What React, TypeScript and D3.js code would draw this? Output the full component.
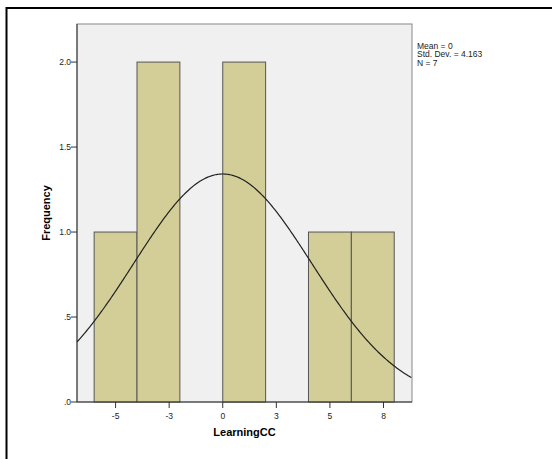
import React from 'react';
import * as d3 from 'd3';

// histogram bins (lower edges) and counts
const binStarts = [-6, -4, -2, 0, 2, 4, 6];
const frequencies = [1, 2, 0, 2, 0, 1, 1];
const binWidth = 2;

const mean = 0;
const stdDev = 4.163;
const n = 7;

const xTicks = [-5, -2.5, 0, 2.5, 5, 7.5];
const xTickLabels = ['-5', '-3', '0', '3', '5', '8'];
const yTicks = [0, 0.5, 1, 1.5, 2];
const yTickLabels = ['.0', '.5', '1.0', '1.5', '2.0'];
const statsLines = ['Mean = 0', 'Std. Dev. = 4.163', 'N = 7'];

const font = '"Liberation Sans", Arial, sans-serif';

export default function App() {
    const left = 77, right = 412, top = 24, bottom = 402;

    const x = d3.scaleLinear().domain([-6.8, 8.83]).range([left, right]);
    const y = d3.scaleLinear().domain([0, 2.224]).range([bottom, top]);

    // expected normal curve scaled to counts per bin
    const density = (v: number) =>
        n * binWidth / (stdDev * Math.sqrt(2 * Math.PI)) *
        Math.exp(-0.5 * Math.pow((v - mean) / stdDev, 2));
    const curvePts = d3.range(-6.8, 8.83 + 0.001, 0.05).map(v => [v, density(v)] as [number, number]);
    const line = d3.line<[number, number]>()
        .x(d => x(d[0]))
        .y(d => y(d[1]));

    return (
        <svg width={552} height={459} style={{ position: 'absolute', left: 0, top: 0, background: '#fff' }}>
            <rect x={6.5} y={8} width={700} height={700} fill="none" stroke="#000" strokeWidth={2} />
            <rect x={left} y={top} width={right - left} height={bottom - top} fill="#f0f0f0" stroke="#888" strokeWidth={1} />
            {binStarts.map((b, i) => frequencies[i] > 0 ? (
                <rect key={i}
                    x={x(b)} y={y(frequencies[i])}
                    width={x(b + binWidth) - x(b)}
                    height={y(0) - y(frequencies[i])}
                    fill="#d3ce97" stroke="#555" strokeWidth={1} />
            ) : null)}
            <path d={line(curvePts) || ''} fill="none" stroke="#222" strokeWidth={1.2} />
            <line x1={left} x2={left} y1={top} y2={bottom} stroke="#333" />
            <line x1={left} x2={right} y1={bottom} y2={bottom} stroke="#333" />
            {yTicks.map((t, i) => (
                <g key={i}>
                    <line x1={left - 6} x2={left} y1={y(t)} y2={y(t)} stroke="#333" />
                    <text x={left - 6} y={y(t) + 3} textAnchor="end" fontSize={8.5} fontFamily={font} fill="#222">{yTickLabels[i]}</text>
                </g>
            ))}
            {xTicks.map((t, i) => (
                <g key={i}>
                    <line x1={x(t)} x2={x(t)} y1={bottom} y2={bottom + 6} stroke="#333" />
                    <text x={x(t)} y={bottom + 17} textAnchor="middle" fontSize={8.5} fontFamily={font} fill="#222">{xTickLabels[i]}</text>
                </g>
            ))}
            <text x={(left + right) / 2} y={436} textAnchor="middle" fontSize={11} fontWeight="bold" fontFamily={font} fill="#000">LearningCC</text>
            <text transform={`translate(50,${(top + bottom) / 2}) rotate(-90)`} textAnchor="middle" fontSize={11} fontWeight="bold" fontFamily={font} fill="#000">Frequency</text>
            {statsLines.map((s, i) => (
                <text key={i} x={417} y={48.5 + i * 8.5} fontSize={8.5} fontFamily={font} fill="#222">{s}</text>
            ))}
        </svg>
    );
}
